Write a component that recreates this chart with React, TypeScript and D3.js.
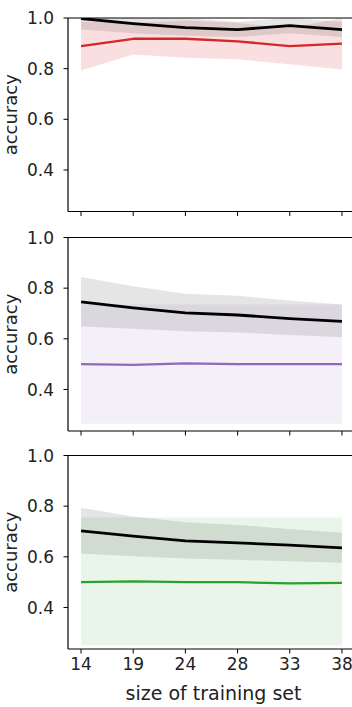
import React from "react";
import * as d3 from "d3";

// Training-set sizes on the shared x axis
const sizes = ["14", "19", "24", "28", "33", "38"];
const yTicks = [0.4, 0.6, 0.8, 1.0];

// Panel 1: reference model (black) vs. red classifier
const p1Black = [0.998, 0.978, 0.962, 0.954, 0.97, 0.954];
const p1BlackLo = [0.955, 0.94, 0.93, 0.925, 0.94, 0.925];
const p1BlackHi = [1.04, 1.02, 1.0, 0.985, 1.0, 0.985];
const p1Red = [0.889, 0.918, 0.918, 0.908, 0.889, 0.899];
const p1RedLo = [0.793, 0.856, 0.843, 0.837, 0.817, 0.797];
const p1RedHi = [0.985, 0.98, 0.99, 0.98, 0.96, 1.0];

// Panel 2: reference model (black) vs. purple classifier
const p2Black = [0.746, 0.722, 0.702, 0.694, 0.68, 0.669];
const p2BlackLo = [0.649, 0.64, 0.63, 0.625, 0.615, 0.606];
const p2BlackHi = [0.844, 0.808, 0.778, 0.77, 0.751, 0.735];
const p2Purple = [0.5, 0.497, 0.503, 0.5, 0.5, 0.5];
const p2PurpleLo = [0.265, 0.265, 0.265, 0.265, 0.265, 0.265];
const p2PurpleHi = [0.735, 0.735, 0.735, 0.735, 0.735, 0.735];

// Panel 3: reference model (black) vs. green classifier
const p3Black = [0.702, 0.682, 0.663, 0.655, 0.646, 0.635];
const p3BlackLo = [0.613, 0.602, 0.593, 0.588, 0.582, 0.577];
const p3BlackHi = [0.794, 0.759, 0.736, 0.726, 0.71, 0.695];
const p3Green = [0.5, 0.503, 0.5, 0.5, 0.495, 0.497];
const p3GreenLo = [0.25, 0.25, 0.25, 0.25, 0.25, 0.25];
const p3GreenHi = [0.755, 0.755, 0.755, 0.755, 0.755, 0.755];

const W = 352;
const H = 707;
const left = 68;
const right = 355;
const panelTops = [18, 237.5, 455.5];
const panelH = 193.5;
const font = "DejaVu Sans, sans-serif";

type Series = { mean: number[]; lo: number[]; hi: number[]; color: string; bandOpacity: number };

const panels: Series[][] = [
  [
    { mean: p1Red, lo: p1RedLo, hi: p1RedHi, color: "#d62728", bandOpacity: 0.15 },
    { mean: p1Black, lo: p1BlackLo, hi: p1BlackHi, color: "#000000", bandOpacity: 0.1 },
  ],
  [
    { mean: p2Purple, lo: p2PurpleLo, hi: p2PurpleHi, color: "#9467bd", bandOpacity: 0.1 },
    { mean: p2Black, lo: p2BlackLo, hi: p2BlackHi, color: "#000000", bandOpacity: 0.1 },
  ],
  [
    { mean: p3Green, lo: p3GreenLo, hi: p3GreenHi, color: "#2ca02c", bandOpacity: 0.1 },
    { mean: p3Black, lo: p3BlackLo, hi: p3BlackHi, color: "#000000", bandOpacity: 0.1 },
  ],
];

const x = d3.scaleLinear().domain([-0.25, sizes.length - 0.75]).range([left, right]);

function Panel({ series, top, idx, last }: { series: Series[]; top: number; idx: number; last: boolean }) {
  const y = d3.scaleLinear().domain([0.236, 1.0]).range([top + panelH, top]);
  const bottom = top + panelH;
  const clipId = `clip-${idx}`;
  const drawOrder = [...series].sort((a, b) => (a.color === "#000000" ? 1 : 0) - (b.color === "#000000" ? 1 : 0));
  return (
    <g>
      <defs>
        <clipPath id={clipId}>
          <rect x={left} y={top} width={right - left} height={panelH} />
        </clipPath>
      </defs>
      <g clipPath={`url(#${clipId})`}>
        {drawOrder.map((s, i) => {
          const area = d3
            .area<number>()
            .x((_, j) => x(j))
            .y0((_, j) => y(s.lo[j]))
            .y1((_, j) => y(s.hi[j]));
          return <path key={"a" + i} d={area(s.mean) || ""} fill={s.color} fillOpacity={s.bandOpacity} />;
        })}
        {drawOrder.map((s, i) => {
          const line = d3
            .line<number>()
            .x((_, j) => x(j))
            .y((v) => y(v))
            .curve(d3.curveLinear);
          return (
            <path
              key={"l" + i}
              d={line(s.mean) || ""}
              fill="none"
              stroke={s.color}
              strokeWidth={s.color === "#000000" ? 2.8 : 2.3}
              strokeLinejoin="round"
            />
          );
        })}
      </g>
      {/* spines */}
      <line x1={left} x2={right} y1={top} y2={top} stroke="#000" strokeWidth={1.2} />
      <line x1={left} x2={right} y1={bottom} y2={bottom} stroke="#000" strokeWidth={1.2} />
      <line x1={left} x2={left} y1={top} y2={bottom} stroke="#000" strokeWidth={1.2} />
      {/* y ticks */}
      {yTicks.map((t) => (
        <g key={t}>
          <line x1={left - 4.5} x2={left} y1={y(t)} y2={y(t)} stroke="#000" strokeWidth={1} />
          <text x={left - 14} y={y(t)} dy="0.36em" textAnchor="end" fontSize={17} fontFamily={font} fill="#222">
            {t.toFixed(1)}
          </text>
        </g>
      ))}
      {/* x ticks */}
      {sizes.map((s, j) => (
        <g key={s}>
          <line x1={x(j)} x2={x(j)} y1={bottom} y2={bottom + 4.5} stroke="#000" strokeWidth={1} />
          {last && (
            <text x={x(j)} y={bottom + 21} textAnchor="middle" fontSize={17} fontFamily={font} fill="#222">
              {s}
            </text>
          )}
        </g>
      ))}
      <text
        transform={`translate(17,${(top + bottom) / 2}) rotate(-90)`}
        textAnchor="middle"
        fontSize={18}
        fontFamily={font}
        fill="#222"
      >
        accuracy
      </text>
      {last && (
        <text x={(x(0) + x(sizes.length - 1)) / 2 + 2} y={700} textAnchor="middle" fontSize={19} fontFamily={font} fill="#222">
          size of training set
        </text>
      )}
    </g>
  );
}

export default function App() {
  return (
    <svg
      width={W}
      height={H}
      style={{ position: "absolute", left: 0, top: 0, background: "#fff" }}
    >
      <rect width={W} height={H} fill="#fff" />
      {panels.map((series, i) => (
        <Panel key={i} series={series} top={panelTops[i]} idx={i} last={i === panels.length - 1} />
      ))}
    </svg>
  );
}
